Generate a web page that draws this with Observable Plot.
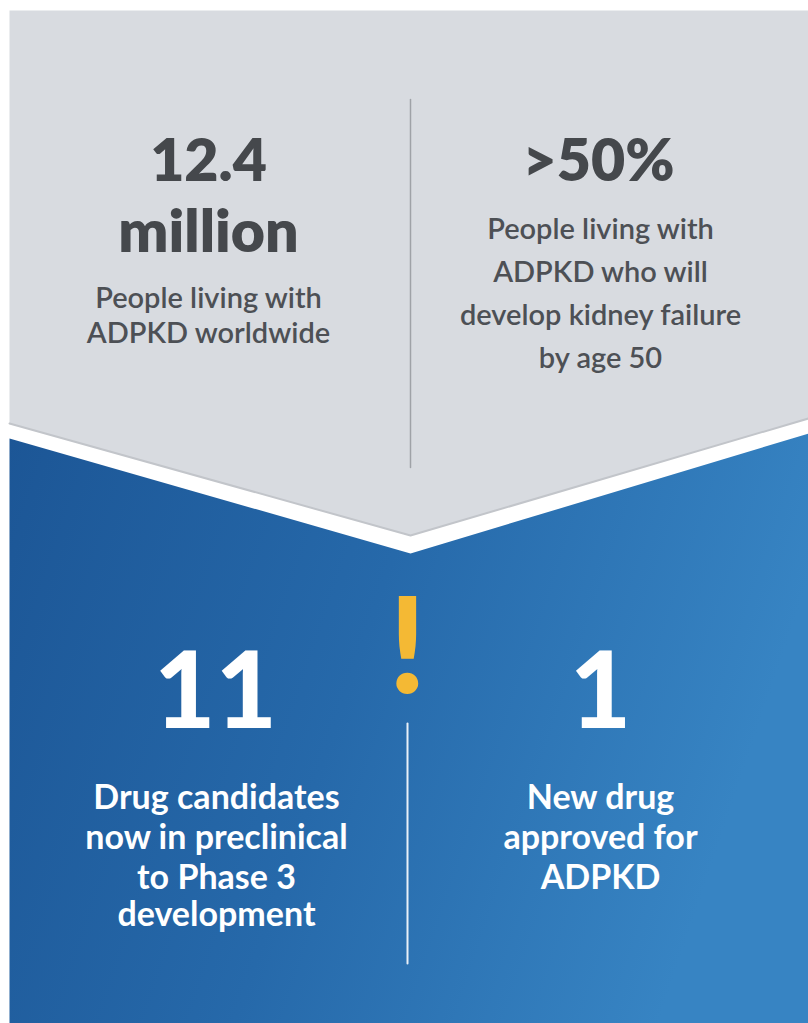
<!DOCTYPE html>
<html>
<head>
<meta charset="utf-8">
<script src="https://cdn.jsdelivr.net/npm/d3@7"></script>
<script src="https://cdn.jsdelivr.net/npm/@observablehq/plot@0.6"></script>
<style>
  html, body { margin: 0; padding: 0; background: #ffffff; }
  #chart svg { display: block; }
</style>
</head>
<body>
<div id="chart"></div>
<script>
// ---- Data ----
const topStats = ["12.4\nmillion", ">50%"];
const topLabels = [
  ["People living with", "ADPKD worldwide"],
  ["People living with", "ADPKD who will", "develop kidney failure", "by age 50"]
];
const bottomStats = ["11", "1"];
const bottomLabels = [
  ["Drug candidates", "now in preclinical", "to Phase 3", "development"],
  ["New drug", "approved for", "ADPKD"]
];

// ---- Layout (pixel space) ----
const W = 808, H = 1023;
const colX = {top: [208, 600], bottom: [216, 600]};
const grayPanel = [[9, 10], [808, 10], [808, 418], [410, 535], [9, 423]];
const grayEdge = [[9, 423], [410, 535], [808, 418]];
const bluePanel = [[9, 438], [410, 553], [808, 433], [808, 1023], [9, 1023]];
const topDivider = [[410, 99], [410, 467]];
const bottomDivider = [[407, 723], [407, 963]];

const fontFamily = "Lato, 'Open Sans', sans-serif";

// Build text rows
const topStatRows = [];
topStats.forEach((s, i) => {
  s.split("\n").forEach((line, j) => topStatRows.push({text: line, x: i === 0 ? 208 : 598, y: 180 + j * 71}));
});
const topLabelRows = [];
topLabels.forEach((lines, i) => {
  const base = i === 0 ? 307 : 238;
  const step = i === 0 ? 35 : 43;
  lines.forEach((line, j) => topLabelRows.push({text: line, x: colX.top[i], y: base + j * step}));
});
const bottomStatRows = bottomStats.map((s, i) => ({text: s, x: i === 0 ? 215 : 600, y: 727}));
const bottomLabelRows = [];
bottomLabels.forEach((lines, i) => {
  lines.forEach((line, j) => bottomLabelRows.push({text: line, x: colX.bottom[i], y: 808 + j * 40 - (j === 3 ? 3 : 0)}));
});

const gradientDefs = () => {
  const defs = d3.create("svg:defs");
  const g = defs.append("linearGradient")
    .attr("id", "blueGrad")
    .attr("x1", "0").attr("y1", "0").attr("x2", "1").attr("y2", "0.25");
  g.append("stop").attr("offset", "0%").attr("stop-color", "#1c5696");
  g.append("stop").attr("offset", "50%").attr("stop-color", "#2669aa");
  g.append("stop").attr("offset", "100%").attr("stop-color", "#3784c3");
  return defs.node();
};

const chart = Plot.plot({
  width: W,
  height: H,
  margin: 0,
  x: {type: "identity"},
  y: {type: "identity"},
  axis: null,
  style: {background: "#ffffff", fontFamily},
  marks: [
    gradientDefs,
    Plot.line(grayPanel, {x: d => d[0], y: d => d[1], fill: "#d8dbe0", stroke: "none", curve: "linear-closed"}),
    Plot.line(grayEdge, {x: d => d[0], y: d => d[1], stroke: "#c2c5ca", strokeWidth: 2}),
    Plot.line(bluePanel, {x: d => d[0], y: d => d[1], fill: "url(#blueGrad)", stroke: "none", curve: "linear-closed"}),
    Plot.line(topDivider, {x: d => d[0], y: d => d[1], stroke: "#9fa2a7", strokeWidth: 1.5}),
    Plot.line(bottomDivider, {x: d => d[0], y: d => d[1], stroke: "#e8f0f8", strokeWidth: 2}),
    Plot.text(topStatRows, {x: "x", y: "y", text: "text", fontSize: 59, fontWeight: 800, fill: "#45484c", lineAnchor: "bottom", textAnchor: "middle"}),
    Plot.text(topLabelRows, {x: "x", y: "y", text: "text", fontSize: 29, fontWeight: 600, fill: "#4d5055", lineAnchor: "bottom", textAnchor: "middle", letterSpacing: "1.1px"}),
    Plot.text(["!"], {x: () => 407, y: () => 692, text: d => d, fontSize: 134, fontWeight: 900, fill: "#f4b934", lineAnchor: "bottom", textAnchor: "middle"}),
    Plot.text(bottomStatRows, {x: "x", y: "y", text: "text", fontSize: 106, fontWeight: 900, fill: "#ffffff", lineAnchor: "bottom", textAnchor: "middle"}),
    Plot.text(bottomLabelRows, {x: "x", y: "y", text: "text", fontSize: 34, fontWeight: 700, fill: "#ffffff", lineAnchor: "bottom", textAnchor: "middle", letterSpacing: "0.5px"})
  ]
});
document.getElementById("chart").append(chart);
</script>
</body>
</html>
